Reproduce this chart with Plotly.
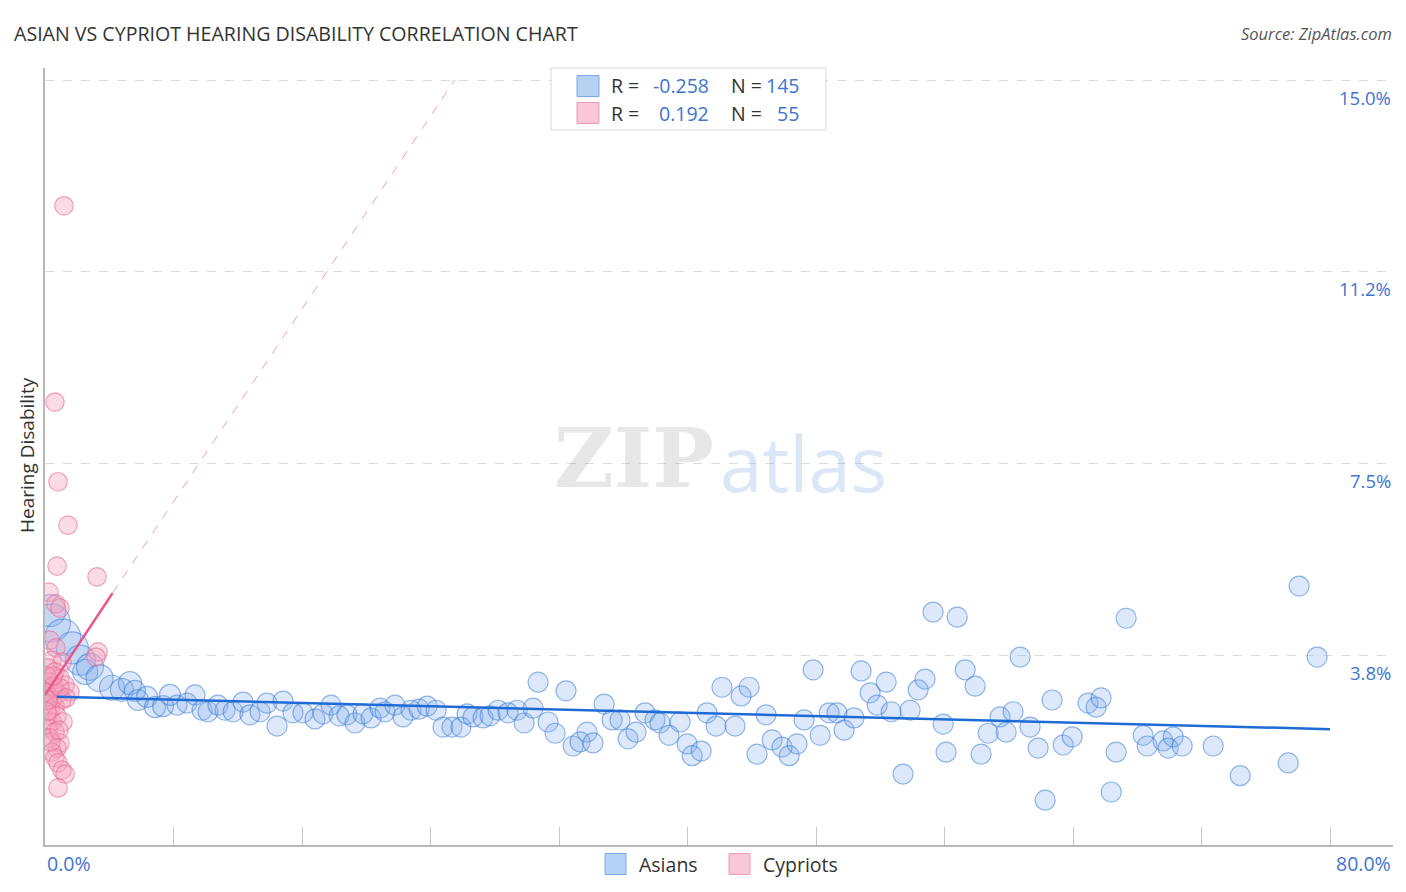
import plotly.graph_objects as go

# ---------------- data ----------------
asian_x = [0.4, 0.3, 1.1, 1.7, 2.2, 2.5, 2.8, 3.4, 4.17, 4.79, 5.29, 5.6, 5.79, 6.35, 6.85, 7.35, 7.78,
           8.22, 8.84, 9.34, 9.78, 10.15, 10.77, 11.21, 11.71, 12.33, 12.76, 13.39, 13.82, 14.45,
           14.82, 15.44, 16.06, 16.81, 17.31, 17.81, 18.31, 18.80, 19.30, 19.80, 20.30, 20.86,
           21.17, 21.79, 22.29, 22.79, 23.29, 23.79, 24.35, 24.78, 25.34, 25.90, 26.28, 26.65,
           27.27, 27.71, 28.21, 28.83, 29.39, 29.83, 30.39, 30.70, 31.32, 31.76, 32.44, 32.88,
           33.31, 33.75, 34.12, 34.81, 35.31, 35.80, 36.30, 36.80, 37.36, 37.98, 38.29, 38.85,
           39.54, 39.98, 40.29, 40.85, 41.22, 41.78, 42.15, 42.96, 43.34, 43.84, 44.33, 44.89,
           45.27, 45.89, 46.33, 46.82, 47.26, 47.82, 48.26, 48.82, 49.31, 49.75, 50.37, 50.81,
           51.37, 51.81, 52.37, 52.68, 53.42, 53.86, 54.36, 54.79, 55.29, 55.92, 56.10, 56.79,
           57.29, 57.91, 58.28, 58.72, 59.46, 59.84, 60.27, 60.71, 61.33, 61.83, 62.27, 62.70,
           63.39, 63.95, 64.94, 65.44, 65.75, 66.38, 66.69, 67.31, 68.37, 68.62, 69.61, 69.93,
           70.24, 70.80, 72.73, 74.41, 77.40, 78.08, 79.20]
asian_y = [4.38, 4.62, 4.10, 3.89, 3.65, 3.42, 3.52, 3.30, 3.11, 3.07, 3.20, 3.05, 2.87, 2.93, 2.73, 2.75, 2.97,
           2.77, 2.81, 2.97, 2.67, 2.64, 2.77, 2.67, 2.64, 2.83, 2.58, 2.64, 2.81, 2.36,
           2.85, 2.62, 2.62, 2.50, 2.60, 2.77, 2.56, 2.58, 2.42, 2.60, 2.52, 2.71,
           2.64, 2.77, 2.54, 2.67, 2.69, 2.75, 2.67, 2.34, 2.34, 2.34, 2.60, 2.54,
           2.52, 2.56, 2.67, 2.62, 2.67, 2.42, 2.71, 3.22, 2.44, 2.22, 3.05, 1.97,
           2.05, 2.24, 2.03, 2.79, 2.48, 2.48, 2.11, 2.24, 2.62, 2.48, 2.42, 2.18,
           2.44, 2.01, 1.78, 1.87, 2.62, 2.36, 3.12, 2.36, 2.95, 3.12, 1.81, 2.58,
           2.09, 1.95, 1.78, 2.01, 2.48, 3.46, 2.18, 2.62, 2.62, 2.28, 2.52, 3.44,
           3.01, 2.77, 3.22, 2.64, 1.42, 2.67, 3.07, 3.28, 4.59, 2.40, 1.85, 4.49,
           3.46, 3.14, 1.81, 2.22, 2.54, 2.24, 2.64, 3.71, 2.34, 1.93, 0.91, 2.87,
           1.99, 2.15, 2.81, 2.73, 2.91, 1.07, 1.85, 4.47, 2.18, 1.97, 2.07, 1.93,
           2.15, 1.97, 1.97, 1.39, 1.64, 5.10, 3.71]
# relative population weight of each Asian point (1 = typical)
asian_weight = [1.9, 1.6, 1.8, 1.6, 1.5, 1.25, 1.35, 1.35, 1.25, 1.15, 1.15, 1.05, 1.05, 1.05, 1.05, 1.05, 1.05] + \
               [1.0] * (len(asian_x) - 17)

cypriot_x = [1.18, 0.62, 0.81, 1.43, 0.75, 3.24, 0.25, 0.68, 0.93, 0.31, 3.30, 3.18, 0.68, 0.44,
             1.06, 0.19, 0.62, 0.93, 0.31, 1.25, 0.12, 0.50, 1.56, 0.81, 0.19, 0.44, 1.06, 0.06,
             0.62, 0.31, 0.19, 0.75, 0.44, 1.12, 0.19, 0.62, 0.31, 0.93, 0.75, 0.44, 0.62, 0.81,
             1.06, 1.25, 0.81, 0.12, 0.56, 0.00, 0.19, 0.93, 0.50, 0.12, 0.37, 1.31, 0.87]
cypriot_y = [12.54, 8.70, 7.14, 6.29, 5.49, 5.28, 4.98, 4.75, 4.67, 4.04, 3.81, 3.71, 3.89, 3.65,
             3.61, 3.50, 3.42, 3.30, 3.22, 3.16, 3.11, 3.07, 3.03, 2.99, 2.95, 2.87, 2.87, 2.79,
             2.75, 2.67, 2.58, 2.56, 2.44, 2.44, 2.32, 2.24, 2.13, 2.03, 1.93, 1.85, 1.74, 1.64,
             1.50, 1.42, 1.15, 3.34, 3.14, 3.03, 2.87, 3.11, 3.34, 2.64, 2.05, 2.91, 2.28]

# trend lines (endpoints of the fitted lines)
asian_trend_x = [0.75, 80.0]
asian_trend_y = [2.935, 2.30]
cypriot_trend_x = [0.0, 4.2]
cypriot_trend_y = [2.97, 4.96]
cypriot_ext_x = [4.2, 25.5]
cypriot_ext_y = [4.96, 15.0]

legend_rows = [("-0.258", "145"), ("0.192", "55")]
y_ticks = [3.75, 7.5, 11.25, 15.0]
y_tick_labels = ["3.8%", "7.5%", "11.2%", "15.0%"]
x_ticks = [0, 8, 16, 24, 32, 40, 48, 56, 64, 72, 80]

# ---------------- style ----------------
FONT = "Open Sans"
BLUE_TXT = "#3f75d0"
DARK = "#333333"
W, H = 1406, 892
L, R, T, B = 45, 13, 68, 47
PW, PH = W - L - R, H - T - B


def px(xp):
    return (xp - L) / PW


def py(yp):
    return (H - B - yp) / PH


fig = go.Figure()

fig.add_trace(go.Scatter(
    x=asian_x, y=asian_y, mode="markers", name="Asians", showlegend=False,
    marker=dict(size=[20 * w for w in asian_weight], color="rgba(120,170,235,0.35)",
                line=dict(color="rgba(60,125,215,0.8)", width=1.2)),
))
fig.add_trace(go.Scatter(
    x=cypriot_x, y=cypriot_y, mode="markers", name="Cypriots", showlegend=False,
    marker=dict(size=18.5, color="rgba(245,160,188,0.38)",
                line=dict(color="rgba(232,105,145,0.6)", width=1.2)),
))
fig.add_trace(go.Scatter(
    x=asian_trend_x, y=asian_trend_y, mode="lines", showlegend=False,
    line=dict(color="#1f6bd6", width=2.5),
))
fig.add_trace(go.Scatter(
    x=cypriot_ext_x, y=cypriot_ext_y, mode="lines", showlegend=False,
    line=dict(color="rgba(232,90,135,0.6)", width=1, dash="dash"),
))
fig.add_trace(go.Scatter(
    x=cypriot_trend_x, y=cypriot_trend_y, mode="lines", showlegend=False,
    line=dict(color="#e8578a", width=2.5),
))

ann = []
shapes = []

# title & source
ann.append(dict(text="ASIAN VS CYPRIOT HEARING DISABILITY CORRELATION CHART", xref="paper", yref="paper",
                x=px(12), y=py(33), xanchor="left", yanchor="middle", showarrow=False,
                font=dict(family=FONT, size=19.6, color=DARK)))
ann.append(dict(text="<i>Source: ZipAtlas.com</i>", xref="paper", yref="paper",
                x=px(1394), y=py(33), xanchor="right", yanchor="middle", showarrow=False,
                font=dict(family=FONT, size=16.5, color="#555555")))
# y axis title
ann.append(dict(text="Hearing Disability", xref="paper", yref="paper", textangle=-90,
                x=px(27), y=py(455), xanchor="center", yanchor="middle", showarrow=False,
                font=dict(family=FONT, size=19, color=DARK)))
# y tick labels (right, below gridline)
for v, t in zip(y_ticks, y_tick_labels):
    ann.append(dict(text=t, xref="paper", yref="y", x=1.0, y=v, yshift=-17,
                    xanchor="right", yanchor="middle", showarrow=False,
                    font=dict(family=FONT, size=18.5, color=BLUE_TXT)))
# x edge labels
ann.append(dict(text="0.0%", xref="paper", yref="paper", x=0, y=py(863), xanchor="left",
                yanchor="middle", showarrow=False, font=dict(family=FONT, size=19.5, color=BLUE_TXT)))
ann.append(dict(text="80.0%", xref="paper", yref="paper", x=1, y=py(863), xanchor="right",
                yanchor="middle", showarrow=False, font=dict(family=FONT, size=19.5, color=BLUE_TXT)))

# watermark
ann.append(dict(text="<b>ZIP</b>", xref="paper", yref="paper", x=px(634), y=py(458),
                xanchor="center", yanchor="middle", showarrow=False,
                font=dict(family="DejaVu Serif", size=82, color="rgba(120,120,120,0.18)")))
ann.append(dict(text="atlas", xref="paper", yref="paper", x=px(803), y=py(462),
                xanchor="center", yanchor="middle", showarrow=False,
                font=dict(family=FONT, size=76, color="rgba(90,145,220,0.22)")))

# top legend box
shapes.append(dict(type="rect", xref="paper", yref="paper", x0=px(551), x1=px(826), y0=py(130), y1=py(68),
                   line=dict(color="#d8d8d8", width=1), fillcolor="white", layer="above"))
sq_fill = ["rgba(150,190,240,0.7)", "rgba(248,185,205,0.8)"]
sq_line = ["#7aa7e6", "#ef9ab6"]
for i, (rv, nv) in enumerate(legend_rows):
    yc = 86 + 27 * i
    shapes.append(dict(type="rect", xref="paper", yref="paper", x0=px(577), x1=px(599),
                       y0=py(yc + 10.5), y1=py(yc - 10.5), line=dict(color=sq_line[i], width=1),
                       fillcolor=sq_fill[i], layer="above"))
    ann.append(dict(text="R =", xref="paper", yref="paper", x=px(609), y=py(yc), xanchor="left",
                    yanchor="middle", showarrow=False, font=dict(family=FONT, size=19.5, color=DARK)))
    ann.append(dict(text=rv, xref="paper", yref="paper", x=px(711), y=py(yc), xanchor="right",
                    yanchor="middle", showarrow=False, font=dict(family=FONT, size=19.5, color=BLUE_TXT)))
    ann.append(dict(text="N =", xref="paper", yref="paper", x=px(729), y=py(yc), xanchor="left",
                    yanchor="middle", showarrow=False, font=dict(family=FONT, size=19.5, color=DARK)))
    ann.append(dict(text=nv, xref="paper", yref="paper", x=px(801), y=py(yc), xanchor="right",
                    yanchor="middle", showarrow=False, font=dict(family=FONT, size=19.5, color=BLUE_TXT)))

# bottom legend
for i, (name, x0, xt) in enumerate([("Asians", 605, 637), ("Cypriots", 729, 761)]):
    shapes.append(dict(type="rect", xref="paper", yref="paper", x0=px(x0), x1=px(x0 + 21),
                       y0=py(874.5), y1=py(853.5), line=dict(color=sq_line[i], width=1),
                       fillcolor=sq_fill[i], layer="above"))
    ann.append(dict(text=name, xref="paper", yref="paper", x=px(xt), y=py(864), xanchor="left",
                    yanchor="middle", showarrow=False, font=dict(family=FONT, size=19.5, color=DARK)))

fig.update_layout(
    width=W, height=H, margin=dict(l=L, r=R, t=T, b=B),
    paper_bgcolor="white", plot_bgcolor="white",
    annotations=ann, shapes=shapes, showlegend=False,
    xaxis=dict(range=[0, PW / (1285 / 80)], tickvals=x_ticks, showticklabels=False,
               ticks="inside", ticklen=18, tickcolor="#c8c8c8", tickwidth=1,
               showgrid=False, zeroline=False, showline=True, linecolor="#b8b8b8", linewidth=1.5),
    yaxis=dict(range=[(846.7 - 845) / 51.11, (846.7 - 68) / 51.11], tickvals=y_ticks,
               showticklabels=False, ticks="", showgrid=True, gridcolor="#dcdcdc", griddash="dash",
               gridwidth=1, zeroline=False, showline=True, linecolor="#b8b8b8", linewidth=1.5),
)

fig.write_html("out.html", config={"displayModeBar": False})

# remove the browser's default page margin so the figure sits at the window origin
with open("out.html", "r", encoding="utf-8") as f:
    html = f.read()
html = html.replace("<body>", '<body style="margin:0;padding:0;overflow:hidden">', 1)
with open("out.html", "w", encoding="utf-8") as f:
    f.write(html)
